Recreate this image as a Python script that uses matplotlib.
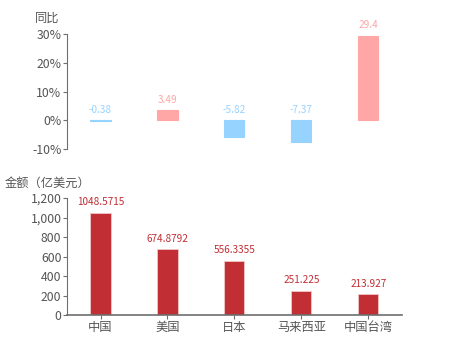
import matplotlib.pyplot as plt
import numpy as np

plt.rcParams['font.family'] = ['Noto Sans CJK SC', 'DejaVu Sans']

# data
regions = ['中国', '美国', '日本', '马来西亚', '中国台湾']
yoy = [-0.38, 3.49, -5.82, -7.37, 29.4]
yoy_labels = ['-0.38', '3.49', '-5.82', '-7.37', '29.4']
amount = [1048.5715, 674.8792, 556.3355, 251.225, 213.927]
amount_labels = ['1048.5715', '674.8792', '556.3355', '251.225', '213.927']

blue = '#97d3ff'
pink = '#ffa6a6'
red = '#c12e34'
axis_col = '#6e6e6e'
text_col = '#555555'

fig = plt.figure(figsize=(4.5, 3.5), dpi=100)
ax1 = fig.add_axes([0.149, 0.574, 0.744, 0.329])
ax2 = fig.add_axes([0.149, 0.100, 0.744, 0.334])

x = np.arange(len(regions))

# top: year-over-year
cols = [pink if v >= 0 else blue for v in yoy]
ax1.bar(x, yoy, width=0.3, color=cols, edgecolor=cols, linewidth=0.8)
for xi, v, lab, c in zip(x, yoy, yoy_labels, cols):
    top = max(v, 0)
    ax1.annotate(lab, (xi, top), xytext=(0, 4), textcoords='offset points',
                 ha='center', va='bottom', fontsize=7.2, color=c)
ax1.set_xlim(-0.5, 4.5)
ax1.set_ylim(-10, 30)
ax1.set_yticks([-10, 0, 10, 20, 30])
ax1.set_yticklabels(['-10%', '0%', '10%', '20%', '30%'])
ax1.set_xticks([])
for s in ['top', 'right', 'bottom']:
    ax1.spines[s].set_visible(False)
ax1.spines['left'].set_color(axis_col)
ax1.tick_params(axis='y', colors=axis_col, labelcolor=text_col, labelsize=8.8,
                length=3, pad=1)
fig.text(35 / 450, 1 - 18 / 350, '同比', fontsize=8.8, color=text_col,
         va='center', ha='left')

# bottom: amount
ax2.bar(x, amount, width=0.3, color=red, edgecolor='#f0c8c8', linewidth=0.6)
for xi, v, lab in zip(x, amount, amount_labels):
    ax2.annotate(lab, (xi, v), xytext=(0, 4), textcoords='offset points',
                 ha='center', va='bottom', fontsize=7.2, color=red)
ax2.set_xlim(-0.5, 4.5)
ax2.set_ylim(0, 1200)
ax2.set_yticks([0, 200, 400, 600, 800, 1000, 1200])
ax2.set_yticklabels(['0', '200', '400', '600', '800', '1,000', '1,200'])
ax2.set_xticks(x)
ax2.set_xticklabels(regions)
for s in ['top', 'right']:
    ax2.spines[s].set_visible(False)
ax2.spines['left'].set_color(axis_col)
ax2.spines['bottom'].set_color(axis_col)
ax2.spines['bottom'].set_linewidth(1.2)
ax2.tick_params(axis='both', colors=axis_col, labelcolor=text_col, labelsize=8.8,
                length=3, pad=1)
fig.text(5 / 450, 1 - 183 / 350, '金额（亿美元）', fontsize=8.8, color=text_col,
         va='center', ha='left')

plt.savefig('out.png', dpi=100)
